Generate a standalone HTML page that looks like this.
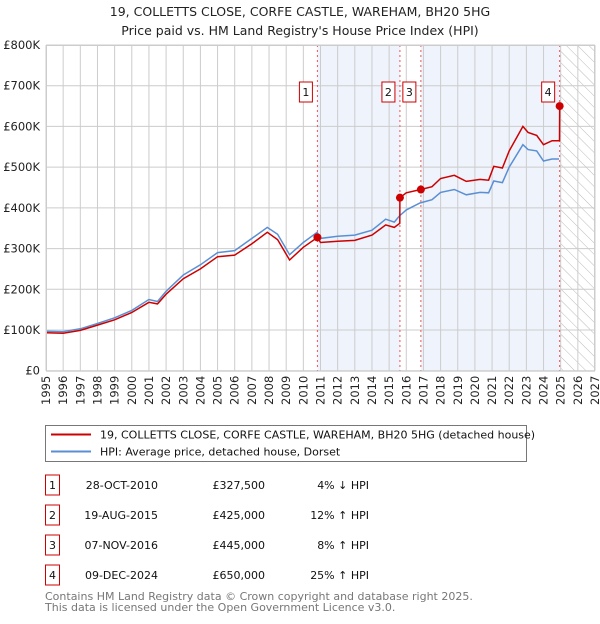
<!DOCTYPE html>
<html><head><meta charset="utf-8"><style>
body{margin:0;background:#fff;font-family:"DejaVu Sans","Liberation Sans",sans-serif;}
svg text{font-family:"DejaVu Sans","Liberation Sans",sans-serif;}
</style></head><body>
<svg id="c" width="600" height="620" xmlns="http://www.w3.org/2000/svg">
<defs><pattern id="hatch" width="8" height="8" patternUnits="userSpaceOnUse" patternTransform="rotate(-45)"><rect width="8" height="8" fill="#fff"/><line x1="0" y1="0" x2="0" y2="8" stroke="#bbb" stroke-width="1"/></pattern></defs>
<text x="300" y="16" text-anchor="middle" font-size="12.5" fill="#222">19, COLLETTS CLOSE, CORFE CASTLE, WAREHAM, BH20 5HG</text>
<text x="300" y="35" text-anchor="middle" font-size="12.5" fill="#222">Price paid vs. HM Land Registry's House Price Index (HPI)</text>
<g id="plot"></g>
<g>
<rect x="45.5" y="425.5" width="481" height="36" fill="#fff" stroke="#777"/>
<line x1="51" y1="434.5" x2="91" y2="434.5" stroke="#cc0000" stroke-width="2"/>
<text x="100" y="438.5" font-size="11" fill="#111">19, COLLETTS CLOSE, CORFE CASTLE, WAREHAM, BH20 5HG (detached house)</text>
<line x1="51" y1="451.5" x2="91" y2="451.5" stroke="#5b8fd4" stroke-width="2"/>
<text x="100" y="455.5" font-size="11" fill="#111">HPI: Average price, detached house, Dorset</text>
</g>
<g id="table"></g>
<text x="45" y="600" font-size="11" fill="#777">Contains HM Land Registry data © Crown copyright and database right 2025.</text>
<text x="45" y="611" font-size="11" fill="#777">This data is licensed under the Open Government Licence v3.0.</text>
</svg>
<script>
const hpiT=[1995,1996,1997,1998,1999,2000,2001,2001.5,2002,2003,2004,2005,2006,2007,2007.9,2008.5,2009.2,2010,2010.8,2011,2012,2013,2014,2014.8,2015.3,2015.6,2016,2016.8,2017.5,2018,2018.8,2019.5,2020.3,2020.8,2021.1,2021.6,2022,2022.8,2023.1,2023.6,2024,2024.5,2024.9];
const hpiV=[97,96,103,116,130,148,175,170,195,235,260,290,295,325,352,335,285,315,340,325,330,333,345,372,365,380,395,412,420,438,445,432,438,437,466,462,500,555,543,540,515,520,520];
const redT=[1995,1996,1997,1998,1999,2000,2001,2001.5,2002,2003,2004,2005,2006,2007,2007.9,2008.5,2009.2,2010,2010.82,2011,2012,2013,2014,2014.8,2015.3,2015.62,2015.63,2016,2016.84,2016.85,2017.5,2018,2018.8,2019.5,2020.3,2020.8,2021.1,2021.6,2022,2022.8,2023.1,2023.6,2024,2024.5,2024.93,2024.94];
const redV=[93,92,99,112,125,143,168,164,188,226,250,280,284,312,340,322,272,303,327.5,315,318,320,333,358,352,362,425,437,445,445,452,472,480,465,470,468,502,498,540,600,585,578,555,565,565,650];
const saleT=[2010.82,2015.63,2016.85,2024.94];
const saleV=[327.5,425,445,650];
const saleLbl=["1","2","3","4"];
const saleDate=["28-OCT-2010","19-AUG-2015","07-NOV-2016","09-DEC-2024"];
const salePrice=["£327,500","£425,000","£445,000","£650,000"];
const saleHpi=["4% ↓ HPI","12% ↑ HPI","8% ↑ HPI","25% ↑ HPI"];
const yTicks=[0,100,200,300,400,500,600,700,800];
const yTickLbl=["£0","£100K","£200K","£300K","£400K","£500K","£600K","£700K","£800K"];

const X0=46,X1=595,Y0=370.7,Y1=45,T0=1995,T1=2027;
const x=t=>X0+(t-T0)/(T1-T0)*(X1-X0);
const y=v=>Y0-v/800*(Y0-Y1);
const NS="http://www.w3.org/2000/svg";
const g=document.getElementById('plot');
function mk(tag,at,parent){const e=document.createElementNS(NS,tag);for(const k in at)e.setAttribute(k,at[k]);(parent||g).appendChild(e);return e;}
let r=mk('rect',{x:x(saleT[0]),y:Y1,width:x(saleT[1])-x(saleT[0]),height:Y0-Y1,fill:'#eef3fc'});


r=mk('rect',{x:x(saleT[2]),y:Y1,width:x(saleT[3])-x(saleT[2]),height:Y0-Y1,fill:'#eef3fc'});


r=mk('rect',{x:x(2025),y:Y1,width:X1-x(2025),height:Y0-Y1,fill:'url(#hatch)'});


for(let t=T0;t<=T1;t++){const l=mk('line',{x1:x(t),x2:x(t),y1:Y1,y2:Y0,stroke:'#ccc','stroke-width':1});


const tx=mk('text',{transform:`translate(${x(t)+4},${Y0+5}) rotate(-90)`,'text-anchor':'end','font-size':11.5,fill:'#222'});tx.textContent=t;

}
yTicks.forEach((v,i)=>{const l=mk('line',{x1:X0,x2:X1,y1:y(v),y2:y(v),stroke:'#ccc','stroke-width':1});


const tx=mk('text',{x:X0-6,y:y(v)+4,'text-anchor':'end','font-size':11.5,fill:'#222'});tx.textContent=yTickLbl[i];

});
saleT.forEach((t,i)=>{const l=mk('line',{x1:x(t),x2:x(t),y1:Y1,y2:Y0,stroke:'#e55','stroke-width':1,'stroke-dasharray':'2,3'});

});
const pts=(T,V)=>T.map((t,i)=>x(t).toFixed(1)+','+y(V[i]).toFixed(1)).join(' ');
let p=mk('polyline',{points:pts(hpiT,hpiV),fill:'none',stroke:'#5b8fd4','stroke-width':1.5});


p=mk('polyline',{points:pts(redT,redV),fill:'none',stroke:'#cc0000','stroke-width':1.5});


saleT.forEach((t,i)=>{const c=mk('circle',{cx:x(t),cy:y(saleV[i]),r:4,fill:'#cc0000'});


const bx=mk('rect',{x:x(t)-18,y:82,width:13,height:20,fill:'#fff',stroke:'#cc0000'});


const tx=mk('text',{x:x(t)-11.5,y:96,'text-anchor':'middle','font-size':11,fill:'#111'});tx.textContent=saleLbl[i];

});
mk('rect',{x:X0+0.5,y:Y1+0.5,width:X1-X0-1,height:Y0-Y1,fill:'none',stroke:'#ccc'});
const tb=document.getElementById('table');
saleLbl.forEach((s,i)=>{const yy=483+i*30;
const b=mk('rect',{x:45.5,y:yy-8,width:14,height:20,fill:'#fff',stroke:'#cc0000'},tb);


const vals=[[52.5,'middle',s],[158,'end',saleDate[i]],[265,'end',salePrice[i]],[369,'end',saleHpi[i]]];
vals.forEach((v,j)=>{const tx=mk('text',{x:v[0],y:yy+6,'text-anchor':v[1],'font-size':11,fill:'#111'},tb);tx.textContent=v[2];

});});
</script>
</body></html>
